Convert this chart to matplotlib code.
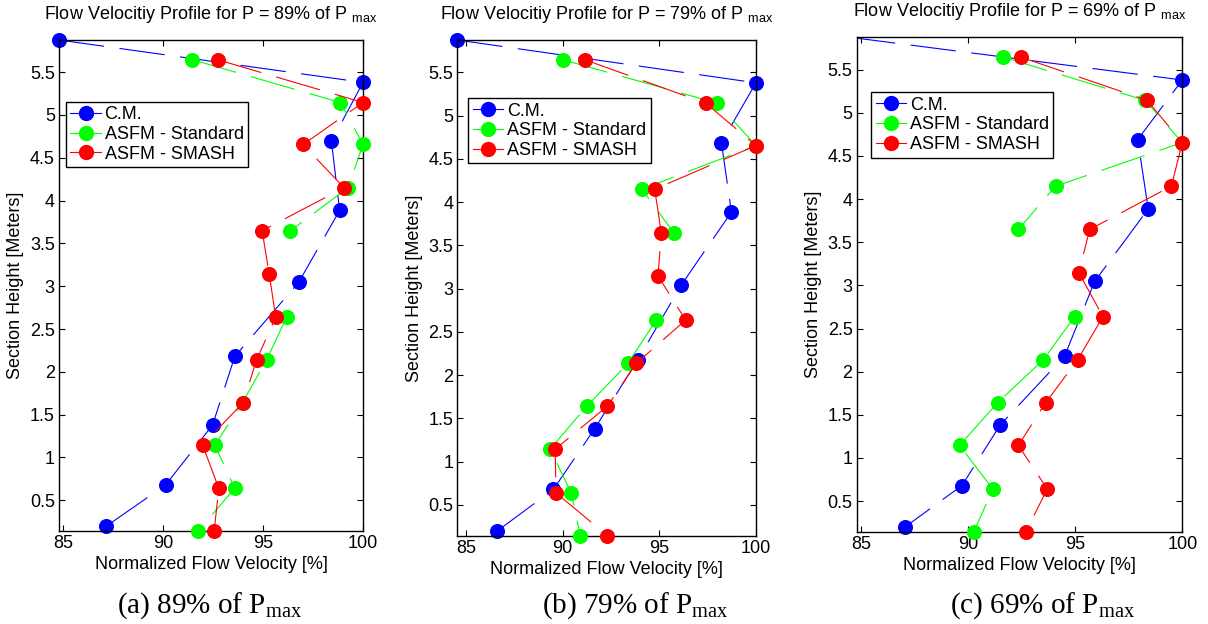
import numpy as np
import matplotlib
matplotlib.use('Agg')
import matplotlib.pyplot as plt
from matplotlib.lines import Line2D

plt.rcParams['font.family'] = ['Liberation Sans', 'DejaVu Sans']
plt.rcParams['font.size'] = 13

nan = np.nan

# Heights of the measuring points [m]
heights_cm = [5.875, 5.38, 4.69, 3.885, 3.045, 2.18, 1.38, 0.68, 0.195]
heights_asfm = [5.645, 5.145, 4.655, 4.15, 3.648, 3.148, 2.638, 2.138, 1.642, 1.145, 0.64, 0.145]

# Normalized flow velocity [%], P = 89% of Pmax
cm_89 = [84.78, 100.0, 98.42, 98.83, 96.78, 93.58, 92.47, 90.12, 87.13]
std_89 = [91.45, 98.87, 100.0, 99.25, 96.37, nan, 96.17, 95.17, 93.97, 92.58, 93.58, 91.75]
smash_89 = [92.72, 100.0, 97.0, 99.05, 94.95, 95.3, 95.63, 94.67, 94.0, 91.97, 92.78, 92.55]

# P = 79% of Pmax
cm_79 = [84.55, 100.0, 98.21, 98.73, 96.14, 93.89, 91.65, 89.52, 86.59]
std_79 = [90.04, 97.99, 100.0, 94.1, 95.74, nan, 94.84, 93.38, 91.25, 89.35, 90.44, 90.91]
smash_79 = [91.17, 97.4, 100.0, 94.76, 95.1, 94.93, 96.36, 93.81, 92.31, 89.61, 89.66, 92.31]

# P = 69% of Pmax
cm_69 = [84.5, 100.0, 97.92, 98.41, 95.91, 94.51, 91.5, 89.72, 87.04]
std_69 = [91.65, 98.26, 100.0, 94.09, 92.35, nan, 94.98, 93.52, 91.39, 89.61, 91.16, 90.28]
smash_69 = [92.47, 98.36, 100.0, 99.49, 95.68, 95.17, 96.3, 95.12, 93.63, 92.35, 93.7, 92.7]

power_levels = ['89', '79', '69']
letters = ['a', 'b', 'c']
series_names = ['C.M.', 'ASFM - Standard', 'ASFM - SMASH']
colors = ['#0000ff', '#00ff00', '#ff0000']
x_left = [84.78, 84.55, 84.81]

data = [(cm_89, std_89, smash_89), (cm_79, std_79, smash_79), (cm_69, std_69, smash_69)]

W, H = 1208, 624
fig = plt.figure(figsize=(W / 100, H / 100), dpi=100)

# axes boxes in pixels: left, top, right, bottom
boxes = [(59, 40, 363, 530.7), (457.3, 40, 756, 535.7), (856.7, 37.3, 1182.3, 531.7)]
legend_anchor = [(0.022, 0.874), (0.036, 0.883), (0.044, 0.889)]
caption_x = [210, 635, 1043]

for i in range(3):
    l, t, r, b = boxes[i]
    ax = fig.add_axes([l / W, (H - b) / H, (r - l) / W, (b - t) / H])
    xmin = x_left[i]
    ax.set_xlim(xmin, 100)
    ax.set_ylim(min(heights_asfm), max(heights_cm))

    handles = []
    for k, vals in enumerate(data[i]):
        hts = np.array(heights_cm if k == 0 else heights_asfm)
        x = np.array(vals)
        ax.plot(x, hts, color=colors[k], lw=0.8, dashes=(41, 14), zorder=2 + k)
        # markers are not clipped at the frame, but points left of the axis are hidden
        keep = x >= xmin
        ax.plot(x[keep], hts[keep], 'o', color=colors[k], ms=10, mew=0.8,
                clip_on=False, zorder=2 + k)
        handles.append(Line2D([], [], color=colors[k], lw=0.8, marker='o', ms=10,
                              label=series_names[k]))

    ax.set_xticks([85, 90, 95, 100])
    yt = np.arange(0.5, 5.51, 0.5)
    ax.set_yticks(yt)
    ax.set_yticklabels(['%g' % v for v in yt])
    ax.tick_params(direction='in', top=True, right=True, length=4, width=0.8,
                   labelsize=13, pad=3)
    for s in ax.spines.values():
        s.set_linewidth(1.0)

    ax.set_xlabel('Normalized Flow Velocity [%]', fontsize=13, labelpad=3)
    ax.set_ylabel('Section Height [Meters]', fontsize=13, labelpad=4)
    ax.set_title('Flow Velocitiy Profile for P = %s%% of P $\\mathregular{_{max}}$' % power_levels[i],
                 fontsize=13, pad=15)

    leg = ax.legend(handles=handles, loc='upper left', bbox_to_anchor=legend_anchor[i],
                    borderaxespad=0, fontsize=13, fancybox=False, framealpha=1,
                    edgecolor='black', handlelength=1.7, handletextpad=0.2,
                    labelspacing=0.15, borderpad=0.25)
    leg.get_frame().set_linewidth(1.0)

    fig.text(caption_x[i] / W, (H - 613) / H,
             '(%s) %s%% of P$\\mathregular{_{max}}$' % (letters[i], power_levels[i]),
             family=['Liberation Serif', 'DejaVu Serif'], fontsize=21,
             ha='center', va='baseline')

fig.savefig('out.png', dpi=100)
